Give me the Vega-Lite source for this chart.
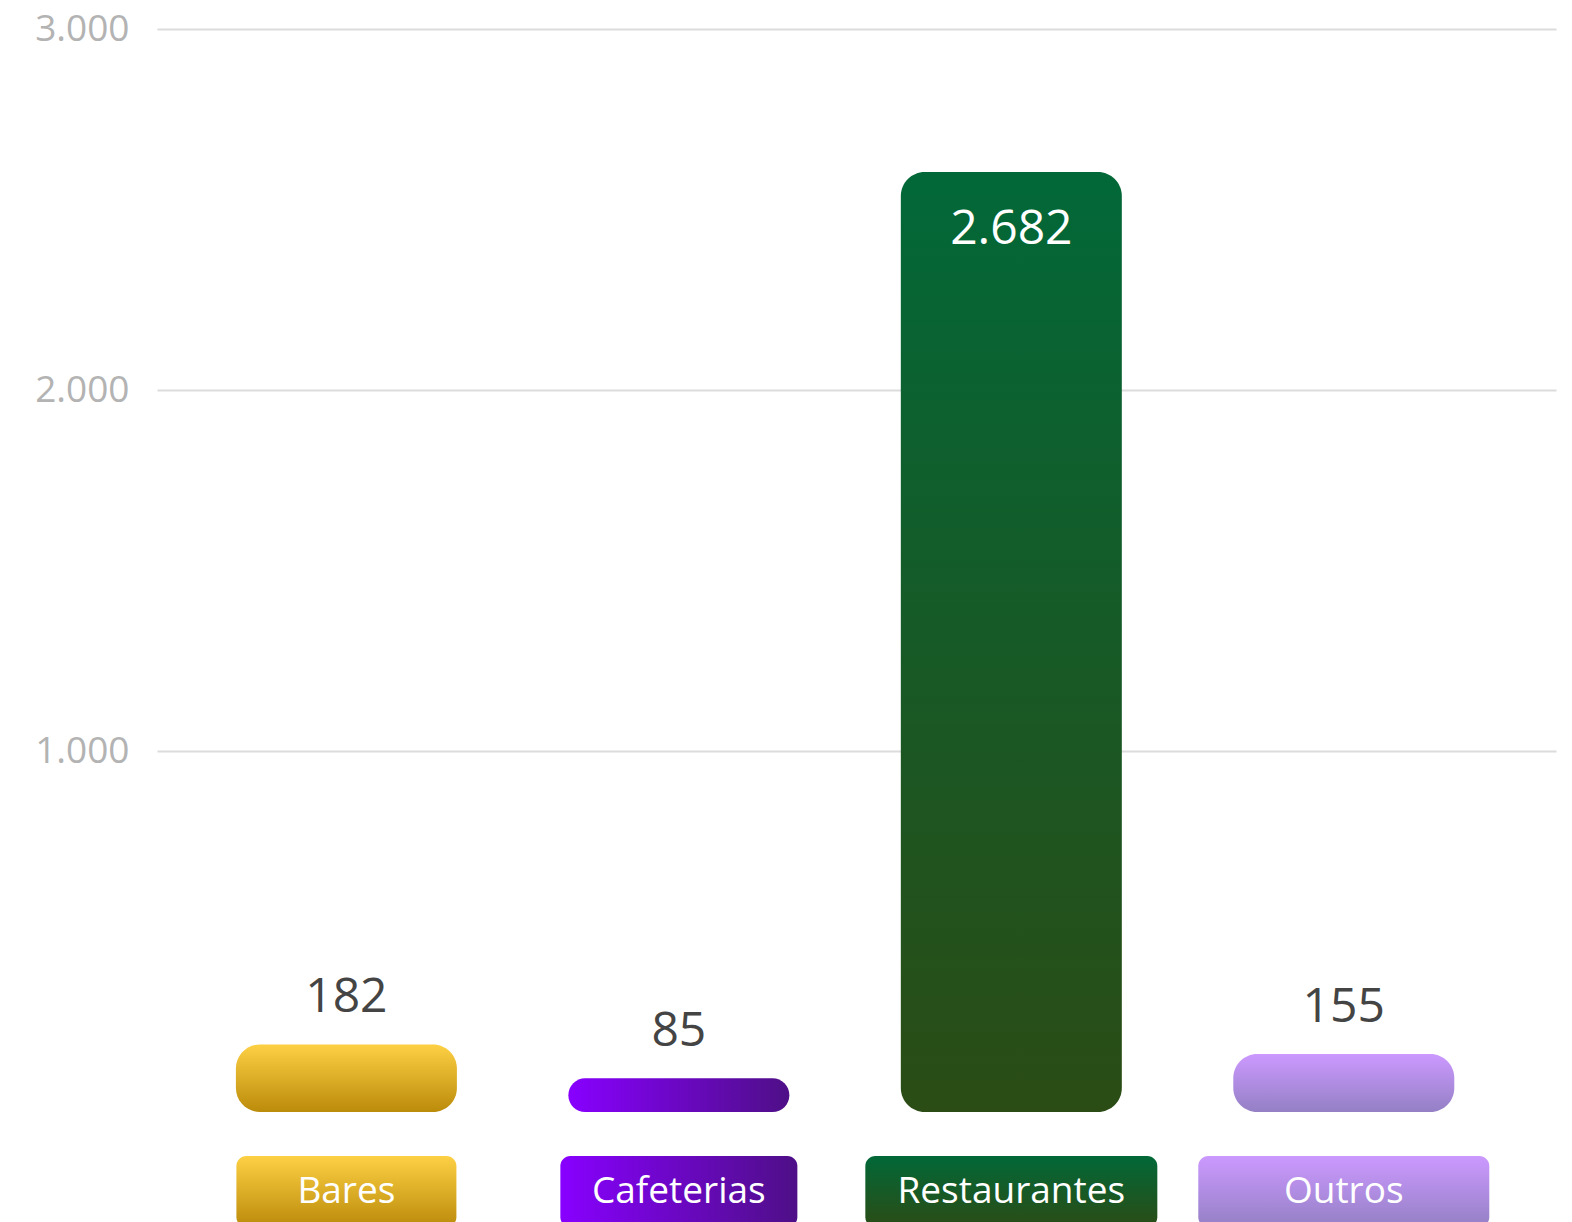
{
  "$schema": "https://vega.github.io/schema/vega-lite/v6.json",
  "autosize": {"type": "none"},
  "padding": {"left": 157, "top": 29, "right": 16, "bottom": 110},
  "width": 1399,
  "height": 1083,
  "background": "white",
  "config": {
    "view": {"stroke": null},
    "font": "Open Sans",
    "locale": {"number": {"decimal": ",", "thousands": ".", "grouping": [3], "currency": ["", ""]}}
  },
  "data": {"values": [
    {"categoria": "Bares", "valor": 182},
    {"categoria": "Cafeterias", "valor": 85},
    {"categoria": "Restaurantes", "valor": 2682},
    {"categoria": "Outros", "valor": 155}
  ]},
  "encoding": {
    "x": {"field": "categoria", "type": "nominal", "sort": null, "axis": null,
          "scale": {"paddingInner": 0, "paddingOuter": 0.104, "align": 0.335}}
  },
  "layer": [
    {
      "mark": {"type": "tick", "opacity": 0},
      "encoding": {
        "y": {"field": "valor", "type": "quantitative",
              "scale": {"domain": [0, 3000], "nice": false, "zero": true},
              "axis": {"orient": "left", "values": [1000, 2000, 3000], "format": ",d", "title": null,
                       "domain": false, "ticks": false, "grid": true, "gridColor": "#dcdcdc", "gridWidth": 2,
                       "labelFont": "Open Sans", "labelFontSize": 37, "labelColor": "#b3b3b3", "labelPadding": 28}}
      }
    },
    {
      "encoding": {
        "y": {"field": "valor", "type": "quantitative", "scale": {"domain": [0, 3103], "nice": false}, "axis": null}
      },
      "layer": [
        {
          "mark": {"type": "bar", "width": 221, "cornerRadius": 24, "yOffset": -4},
          "encoding": {
            "y2": {"datum": 0},
            "fill": {
              "condition": [
                {"test": "datum.categoria === 'Bares'", "value": {"gradient": "linear", "x1": 0, "y1": 0, "x2": 0, "y2": 1, "stops": [{"offset": 0, "color": "#fdd044"}, {"offset": 1, "color": "#bb8b0a"}]}},
                {"test": "datum.categoria === 'Cafeterias'", "value": {"gradient": "linear", "x1": 0, "y1": 0, "x2": 1, "y2": 0, "stops": [{"offset": 0, "color": "#8800ff"}, {"offset": 1, "color": "#4e0f87"}]}},
                {"test": "datum.categoria === 'Restaurantes'", "value": {"gradient": "linear", "x1": 0, "y1": 0, "x2": 0, "y2": 1, "stops": [{"offset": 0, "color": "#026838"}, {"offset": 1, "color": "#2b4c15"}]}}
              ],
              "value": {"gradient": "linear", "x1": 0, "y1": 0, "x2": 0, "y2": 1, "stops": [{"offset": 0, "color": "#cc99ff"}, {"offset": 1, "color": "#9480c5"}]}
            }
          }
        },
        {
          "transform": [{"filter": "datum.valor < 1000"}],
          "mark": {"type": "text", "fontSize": 48, "color": "#444444", "baseline": "alphabetic", "align": "center", "dy": -36},
          "encoding": {"text": {"field": "valor", "type": "quantitative", "format": ",d"}}
        },
        {
          "transform": [{"filter": "datum.valor >= 1000"}],
          "mark": {"type": "text", "fontSize": 48, "color": "#ffffff", "baseline": "alphabetic", "align": "center", "dy": 68},
          "encoding": {"text": {"field": "valor", "type": "quantitative", "format": ",d"}}
        },
        {
          "mark": {"type": "bar", "cornerRadius": 10},
          "encoding": {
            "y": {"datum": -126},
            "y2": {"datum": -330},
            "size": {
              "condition": [
                {"test": "datum.categoria === 'Bares'", "value": 220},
                {"test": "datum.categoria === 'Cafeterias'", "value": 237},
                {"test": "datum.categoria === 'Restaurantes'", "value": 292}
              ],
              "value": 291
            },
            "fill": {
              "condition": [
                {"test": "datum.categoria === 'Bares'", "value": {"gradient": "linear", "x1": 0, "y1": 0, "x2": 0, "y2": 1, "stops": [{"offset": 0, "color": "#fdd044"}, {"offset": 1, "color": "#bb8b0a"}]}},
                {"test": "datum.categoria === 'Cafeterias'", "value": {"gradient": "linear", "x1": 0, "y1": 0, "x2": 1, "y2": 0, "stops": [{"offset": 0, "color": "#8800ff"}, {"offset": 1, "color": "#4e0f87"}]}},
                {"test": "datum.categoria === 'Restaurantes'", "value": {"gradient": "linear", "x1": 0, "y1": 0, "x2": 0, "y2": 1, "stops": [{"offset": 0, "color": "#026838"}, {"offset": 1, "color": "#2b4c15"}]}}
              ],
              "value": {"gradient": "linear", "x1": 0, "y1": 0, "x2": 0, "y2": 1, "stops": [{"offset": 0, "color": "#cc99ff"}, {"offset": 1, "color": "#9480c5"}]}
            }
          }
        },
        {
          "mark": {"type": "text", "fontSize": 37, "color": "#ffffff", "baseline": "middle", "align": "center"},
          "encoding": {
            "y": {"datum": -228},
            "text": {"field": "categoria", "type": "nominal"}
          }
        }
      ]
    }
  ],
  "resolve": {"scale": {"y": "independent"}}
}
